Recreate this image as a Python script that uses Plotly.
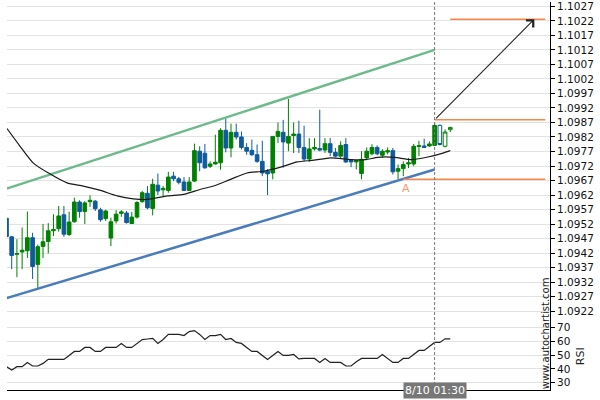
import plotly.graph_objects as go

# ---------------- data ----------------
candle_idx = list(range(86))
opens = [1.09540, 1.09476, 1.09416, 1.09424, 1.09428, 1.09473, 1.09381, 1.09443, 1.09460, 1.09497,
         1.09504, 1.09552, 1.09484, 1.09528, 1.09596, 1.09563, 1.09597, 1.09599, 1.09569, 1.09539,
         1.09472, 1.09531, 1.09557, 1.09558, 1.09522, 1.09544, 1.09597, 1.09626, 1.09574, 1.09654,
         1.09638, 1.09636, 1.09685, 1.09676, 1.09665, 1.09636, 1.09668, 1.09771, 1.09764, 1.09719,
         1.09727, 1.09731, 1.09843, 1.09782, 1.09836, 1.09820, 1.09784, 1.09774, 1.09759, 1.09736,
         1.09702, 1.09696, 1.09822, 1.09836, 1.09799, 1.09825, 1.09830, 1.09784, 1.09744, 1.09779,
         1.09780, 1.09775, 1.09797, 1.09767, 1.09754, 1.09794, 1.09739, 1.09734, 1.09694, 1.09748,
         1.09762, 1.09784, 1.09757, 1.09768, 1.09773, 1.09702, 1.09711, 1.09727, 1.09727, 1.09787,
         1.09789, 1.09789, 1.09791, 1.09860, 1.09788, 1.09845]
highs = [1.09545, 1.09479, 1.09468, 1.09508, 1.09563, 1.09490, 1.09449, 1.09520, 1.09523, 1.09554,
         1.09582, 1.09582, 1.09563, 1.09611, 1.09602, 1.09599, 1.09619, 1.09603, 1.09576, 1.09569,
         1.09542, 1.09568, 1.09568, 1.09565, 1.09562, 1.09599, 1.09634, 1.09651, 1.09676, 1.09694,
         1.09651, 1.09700, 1.09700, 1.09682, 1.09682, 1.09682, 1.09797, 1.09788, 1.09796, 1.09736,
         1.09828, 1.09850, 1.09885, 1.09866, 1.09866, 1.09839, 1.09799, 1.09811, 1.09794, 1.09807,
         1.09709, 1.09822, 1.09870, 1.09879, 1.09951, 1.09870, 1.09876, 1.09859, 1.09816, 1.09816,
         1.09914, 1.09816, 1.09816, 1.09782, 1.09805, 1.09816, 1.09743, 1.09741, 1.09771, 1.09784,
         1.09795, 1.09791, 1.09778, 1.09784, 1.09782, 1.09725, 1.09736, 1.09748, 1.09796, 1.09807,
         1.09814, 1.09805, 1.09867, 1.09863, 1.09846, 1.09855]
lows = [1.09474, 1.09365, 1.09337, 1.09365, 1.09403, 1.09331, 1.09297, 1.09403, 1.09419, 1.09479,
        1.09494, 1.09476, 1.09479, 1.09525, 1.09542, 1.09520, 1.09579, 1.09565, 1.09528, 1.09531,
        1.09444, 1.09522, 1.09545, 1.09522, 1.09520, 1.09539, 1.09594, 1.09571, 1.09550, 1.09620,
        1.09617, 1.09628, 1.09668, 1.09657, 1.09634, 1.09635, 1.09665, 1.09702, 1.09710, 1.09713,
        1.09725, 1.09707, 1.09767, 1.09750, 1.09811, 1.09777, 1.09759, 1.09754, 1.09731, 1.09685,
        1.09620, 1.09674, 1.09799, 1.09714, 1.09771, 1.09765, 1.09765, 1.09736, 1.09734, 1.09773,
        1.09771, 1.09765, 1.09754, 1.09750, 1.09748, 1.09731, 1.09716, 1.09708, 1.09674, 1.09743,
        1.09757, 1.09757, 1.09748, 1.09760, 1.09691, 1.09674, 1.09685, 1.09713, 1.09719, 1.09754,
        1.09783, 1.09786, 1.09789, 1.09791, 1.09784, 1.09837]
closes = [1.09477, 1.09412, 1.09418, 1.09430, 1.09473, 1.09374, 1.09442, 1.09459, 1.09497, 1.09501,
          1.09548, 1.09485, 1.09527, 1.09596, 1.09563, 1.09593, 1.09602, 1.09573, 1.09535, 1.09565,
          1.09528, 1.09554, 1.09562, 1.09525, 1.09544, 1.09594, 1.09628, 1.09576, 1.09657, 1.09634,
          1.09643, 1.09682, 1.09676, 1.09664, 1.09636, 1.09665, 1.09773, 1.09731, 1.09714, 1.09727,
          1.09733, 1.09843, 1.09782, 1.09836, 1.09820, 1.09784, 1.09771, 1.09759, 1.09736, 1.09696,
          1.09693, 1.09822, 1.09839, 1.09803, 1.09822, 1.09830, 1.09784, 1.09744, 1.09779, 1.09784,
          1.09775, 1.09797, 1.09767, 1.09754, 1.09791, 1.09734, 1.09734, 1.09739, 1.09743, 1.09771,
          1.09784, 1.09762, 1.09771, 1.09773, 1.09700, 1.09711, 1.09725, 1.09731, 1.09788, 1.09790,
          1.09784, 1.09796, 1.09860, 1.09794, 1.09837, 1.09853]
signal_idx = 82          # candle at 8/10 01:30; later candles drawn hollow
signal_label = "8/10 01:30"

ma_x = [0.1, 2.6, 5.1, 8.3, 11.6, 14.7, 18.0, 21.2, 24.3, 27.0, 30.8, 33.9, 37.2, 39.7, 42.9,
        46.1, 49.2, 52.5, 55.7, 58.9, 62.1, 66.0, 68.8, 71.1, 74.3, 77.5, 80.7, 82.6, 85.0]
ma_y = [1.09849, 1.09788, 1.09731, 1.09693, 1.09662, 1.09651, 1.09636, 1.09617, 1.09607, 1.09605,
        1.09617, 1.09622, 1.09640, 1.09651, 1.09674, 1.09696, 1.09702, 1.09716, 1.09734, 1.09740,
        1.09748, 1.09742, 1.09742, 1.09750, 1.09750, 1.09742, 1.09751, 1.09759, 1.09773]

rsi = [41.6, 39.2, 41.6, 41.6, 44.7, 42.1, 42.1, 44.0, 46.9, 46.9,
       46.9, 46.9, 49.8, 52.7, 52.7, 55.6, 55.6, 52.7, 52.7, 55.6,
       55.6, 55.6, 58.5, 55.6, 55.6, 58.5, 61.3, 61.7, 62.1, 58.5,
       61.3, 65.0, 65.0, 65.0, 64.2, 67.1, 67.8, 65.0, 61.3, 64.2,
       64.2, 65.0, 61.3, 62.1, 59.2, 58.5, 55.6, 52.7, 52.7, 49.8,
       46.9, 49.8, 52.7, 49.8, 49.8, 50.5, 47.3, 47.6, 47.6, 47.6,
       44.7, 47.6, 44.7, 44.7, 44.7, 42.1, 42.1, 45.2, 47.6, 47.6,
       47.6, 47.6, 50.5, 47.6, 44.7, 44.7, 47.6, 47.6, 50.5, 53.4,
       53.4, 56.0, 59.2, 59.2, 61.8, 61.8]

resistance_x = [0, 82]
resistance_y = [1.09642, 1.10120]
support_x = [0, 82]
support_y = [1.09265, 1.09708]

level_upper = 1.09879      # breakout level
level_lower = 1.09674      # point A level
level_target = 1.10226     # forecast target
level_x_end = 103.2
target_x_start = 85.0
lower_x_start = 76.0
point_a_x = 76.6
arrow_tip_x = 101.1

price_ticks = [round(1.0922 + 0.0005 * k, 4) for k in range(22)]
rsi_ticks = [30, 40, 50, 60, 70]

# ---------------- styles ----------------
GREEN = "#008000"
BLUE = "#0f5a9e"
ORANGE = "#f7864a"
FONT = "DejaVu Sans"

fig = go.Figure()

n_solid = signal_idx + 1
fig.add_trace(go.Candlestick(
    x=candle_idx[:n_solid], open=opens[:n_solid], high=highs[:n_solid],
    low=lows[:n_solid], close=closes[:n_solid],
    increasing=dict(line=dict(color=GREEN, width=1), fillcolor=GREEN),
    decreasing=dict(line=dict(color=BLUE, width=1), fillcolor=BLUE),
    whiskerwidth=0, showlegend=False, hoverinfo="skip"))
fig.add_trace(go.Candlestick(
    x=candle_idx[n_solid:], open=opens[n_solid:], high=highs[n_solid:],
    low=lows[n_solid:], close=closes[n_solid:],
    increasing=dict(line=dict(color=GREEN, width=1), fillcolor="rgba(255,255,255,0)"),
    decreasing=dict(line=dict(color=BLUE, width=1), fillcolor="rgba(255,255,255,0)"),
    whiskerwidth=0, showlegend=False, hoverinfo="skip"))

# channel lines
fig.add_trace(go.Scatter(x=resistance_x, y=resistance_y, mode="lines",
                         line=dict(color="#6fba8d", width=2.5), showlegend=False, hoverinfo="skip"))
fig.add_trace(go.Scatter(x=support_x, y=support_y, mode="lines",
                         line=dict(color="#4a7bbd", width=2.5), showlegend=False, hoverinfo="skip"))
# moving average
fig.add_trace(go.Scatter(x=ma_x, y=ma_y, mode="lines", line=dict(color="#1a1a1a", width=1.2, shape="spline", smoothing=0.6),
                         showlegend=False, hoverinfo="skip"))
# levels
fig.add_trace(go.Scatter(x=[signal_idx, level_x_end], y=[level_upper, level_upper], mode="lines",
                         line=dict(color=ORANGE, width=1.5), showlegend=False, hoverinfo="skip"))
fig.add_trace(go.Scatter(x=[lower_x_start, level_x_end], y=[level_lower, level_lower], mode="lines",
                         line=dict(color=ORANGE, width=1.5), showlegend=False, hoverinfo="skip"))
fig.add_trace(go.Scatter(x=[target_x_start, level_x_end], y=[level_target, level_target], mode="lines",
                         line=dict(color=ORANGE, width=1.5), showlegend=False, hoverinfo="skip"))

# RSI
fig.add_trace(go.Scatter(x=candle_idx, y=rsi, mode="lines", line=dict(color="#222222", width=1.2),
                         yaxis="y2", showlegend=False, hoverinfo="skip"))

split = (390 - 316) / 390

fig.update_layout(
    width=600, height=400,
    margin=dict(l=7, r=50, t=0, b=10),
    paper_bgcolor="white", plot_bgcolor="white",
    font=dict(family=FONT, size=10.5, color="#111111"),
    boxgap=0.3, boxgroupgap=0,
    xaxis=dict(range=[0.1, 104.1], anchor="y2", showgrid=False, zeroline=False,
               showline=True, linecolor="black", linewidth=1, showticklabels=False, ticks="",
               rangeslider=dict(visible=False)),
    yaxis=dict(domain=[split, 1], range=[1.09202, 1.10285], side="right",
               tickvals=price_ticks, ticktext=[f"{v:.4f}" for v in price_ticks],
               ticklabeloverflow="allow",
               showgrid=True, gridcolor="#e2e2e2", gridwidth=1, zeroline=False,
               showline=True, linecolor="black", linewidth=1, ticks="outside", ticklen=4,
               tickcolor="black"),
    yaxis2=dict(domain=[0, split], range=[24.7, 78.1], side="right", anchor="x",
                tickvals=rsi_ticks, showgrid=True, gridcolor="#e2e2e2", gridwidth=1, zeroline=False,
                showline=True, linecolor="black", linewidth=1, ticks="outside", ticklen=4,
                tickcolor="black"),
    shapes=[dict(type="line", xref="x", yref="paper", x0=signal_idx, x1=signal_idx, y0=0, y1=1,
                 line=dict(color="#777777", width=1, dash="3px,2px"))],
    annotations=[
        dict(x=arrow_tip_x, y=level_target, ax=signal_idx, ay=level_upper, xref="x", yref="y",
             axref="x", ayref="y", text="", showarrow=True, arrowhead=4, arrowsize=1.8,
             arrowwidth=1.1, arrowcolor="#222222", standoff=0, startstandoff=0),
        dict(x=point_a_x, y=level_lower, xref="x", yref="y", text="A", showarrow=False,
             yanchor="top", yshift=-1, font=dict(color="#f59a6a", size=11, family=FONT)),
        dict(x=signal_idx, y=0, xref="x", yref="paper", text=signal_label, showarrow=False,
             bgcolor="#777777", font=dict(color="white", size=11, family=FONT),
             borderpad=1, xanchor="center", yanchor="middle"),
        dict(x=1, y=(390 - 333) / 390, xref="paper", yref="paper", text="www.autochartist.com",
             showarrow=False, textangle=-90, xanchor="center", yanchor="middle", xshift=-5,
             font=dict(size=10, color="#222222", family=FONT)),
        dict(x=1, y=(390 - 356) / 390, xref="paper", yref="paper", text="RSI",
             showarrow=False, textangle=-90, xanchor="center", yanchor="middle", xshift=30,
             font=dict(size=11, color="#222222", family=FONT)),
    ],
)

fig.write_html("out.html")
